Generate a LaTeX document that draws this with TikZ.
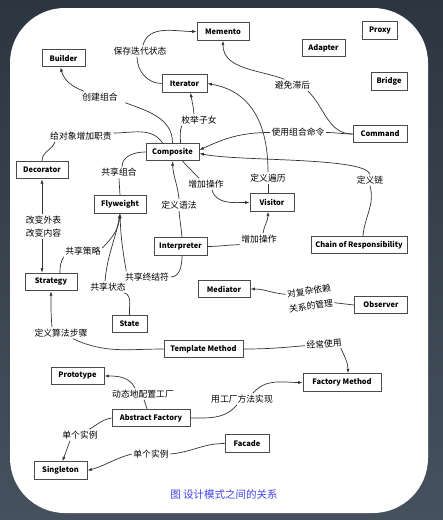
\documentclass[tikz,border=0pt]{standalone}
\usepackage{fontspec}
\newfontfamily\cjk{Noto Sans CJK SC}
\usetikzlibrary{arrows.meta}
\definecolor{bgtop}{HTML}{2C3640}
\definecolor{bgbot}{HTML}{45515D}
\definecolor{boxline}{HTML}{4A4A4A}
\definecolor{wirecol}{HTML}{333333}
\definecolor{capblue}{HTML}{4040F0}
\begin{document}
\begin{tikzpicture}[x=1pt,y=-1pt,
  pat/.style={draw=boxline, line width=0.9pt, fill=white,
    font=\cjk\bfseries\fontsize{7.5}{9}\selectfont,
    minimum height=17.5pt, inner xsep=4pt, inner ysep=0pt},
  lbl/.style={font=\cjk\fontsize{8.8}{13}\selectfont, inner sep=1.5pt, align=center},
  wire/.style={draw=wirecol, line width=0.7pt},
  arr/.style={wire, -{Latex[length=4.5pt,width=3.2pt]}},
  rarr/.style={wire, {Latex[length=4.5pt,width=3.2pt]}-}]
\useasboundingbox (0,0) rectangle (443,520);
% backdrop and card
\shade[top color=bgtop, bottom color=bgbot] (0,0) rectangle (443,520);
\fill[white, rounded corners=55pt] (10,8) rectangle (428,513);

% pattern boxes
\node[pat, minimum width=52pt] (memento) at (223,31.5) {Memento};
\node[pat, minimum width=35pt] (proxy) at (380,30.5) {Proxy};
\node[pat, minimum width=43pt] (adapter) at (323.5,48) {Adapter};
\node[pat, minimum width=43pt] (builder) at (63.5,58) {Builder};
\node[pat, minimum width=36pt] (bridge) at (389,81.5) {Bridge};
\node[pat, minimum width=45pt] (iterator) at (184.5,83.5) {Iterator};
\node[pat, minimum width=54pt] (command) at (380,134) {Command};
\node[pat, minimum width=53pt] (composite) at (172.5,152) {Composite};
\node[pat, minimum width=52pt] (decorator) at (42,170) {Decorator};
\node[pat, minimum width=52pt] (flyweight) at (120,204.5) {Flyweight};
\node[pat, minimum width=44pt] (visitor) at (272,202.5) {Visitor};
\node[pat, minimum width=96pt] (chain) at (359,245) {Chain of Responsibility};
\node[pat, minimum width=53pt] (interpreter) at (180.5,246.5) {Interpreter};
\node[pat, minimum width=52pt] (strategy) at (51,282) {Strategy};
\node[pat, minimum width=52pt] (mediator) at (224,289) {Mediator};
\node[pat, minimum width=53pt] (observer) at (381,305) {Observer};
\node[pat, minimum width=35pt] (state) at (129.5,324) {State};
\node[pat, minimum width=79pt] (template) at (203.5,349) {Template Method};
\node[pat, minimum width=53pt] (prototype) at (77.5,376) {Prototype};
\node[pat, minimum width=78pt] (factory) at (342,382.5) {Factory Method};
\node[pat, minimum width=78pt] (abstract) at (151,418) {Abstract Factory};
\node[pat, minimum width=44pt] (facade) at (247,443.5) {Facade};
\node[pat, minimum width=53pt] (singleton) at (60.5,470.5) {Singleton};

% relation labels
\node[lbl] (lSave) at (140,51) {保存迭代状态};
\node[lbl] (lBuild) at (100,97) {创建组合};
\node[lbl] (lAvoid) at (292.5,85) {避免滞后};
\node[lbl] (lEnum) at (199,120) {枚举子女};
\node[lbl] (lDuty) at (81,136) {给对象增加职责};
\node[lbl] (lCmd) at (298,132.5) {使用组合命令};
\node[lbl] (lShare) at (119,172.5) {共享组合};
\node[lbl] (lAddA) at (206,184) {增加操作};
\node[lbl] (lTrav) at (268,178) {定义遍历};
\node[lbl] (lChain) at (370,180) {定义链};
\node[lbl] (lGram) at (179,205) {定义语法};
\node[lbl] (lChange) at (43.5,226.5) {改变外表\\改变内容};
\node[lbl] (lAddB) at (259,239) {增加操作};
\node[lbl] (lStrat) at (83,251) {共享策略};
\node[lbl] (lTerm) at (147,277) {共享终结符};
\node[lbl] (lState) at (108,287) {共享状态};
\node[lbl, rotate=8] (lDepA) at (309,291) {对复杂依赖};
\node[lbl, rotate=8] (lDepB) at (311,306) {关系的管理};
\node[lbl] (lAlg) at (61,333) {定义算法步骤};
\node[lbl, rotate=5] (lOften) at (324,344) {经常使用};
\node[lbl] (lDyn) at (143,394) {动态地配置工厂};
\node[lbl] (lImpl) at (242,399) {用工厂方法实现};
\node[lbl] (lSingA) at (80,435) {单个实例};
\node[lbl] (lSingB) at (151,454) {单个实例};

% Iterator -> Memento
\draw[wire] (iterator.west) to[out=180,in=-90] ([xshift=-3pt]lSave.south);
\draw[arr] ([xshift=3pt]lSave.north) to[out=75,in=180] (memento.west);
% Composite -> Builder
\draw[wire] (composite.north) to[out=90,in=-20] ([xshift=6pt]lBuild.south east);
\draw[arr] ([xshift=-16pt]lBuild.north) to[out=160,in=-75] ([xshift=-3pt]builder.south);
% Composite -> Iterator
\draw[wire] ([xshift=8pt]composite.north) to[out=90,in=-110] ([xshift=2pt]lEnum.south west);
\draw[arr] ([xshift=-5pt]lEnum.north) to[out=95,in=-80] ([xshift=6pt]iterator.south);
% Composite -> Decorator
\draw[wire] ([xshift=-10pt]composite.north) to[out=125,in=0] ([yshift=3pt]lDuty.east);
\draw[wire] ([xshift=-26pt]lDuty.south) to[out=-110,in=90] (decorator.north);
% Command -> Memento
\draw[wire] (command.west) to[out=180,in=-45] ([xshift=-4pt]lAvoid.south east);
\draw[arr] ([xshift=-8pt]lAvoid.north) to[out=160,in=-90] (memento.south);
% Command -> Composite
\draw[wire] (command.west) to[out=180,in=0] (lCmd.east);
\draw[arr] (lCmd.west) to[out=180,in=25] ([yshift=2pt]composite.east);
% Chain of Responsibility -> Composite
\draw[wire] ([xshift=4pt]chain.north) to[out=85,in=-75] (lChain.south);
\draw[arr] (lChain.north) .. controls (365,157) and (239,161.5) .. ([yshift=-1.5pt]composite.east);
% Visitor -> Iterator
\draw[wire] ([xshift=-4pt]visitor.north) -- (lTrav.south);
\draw[arr] (lTrav.north) to[out=90,in=-10,looseness=1.1] (iterator.east);
% Composite -> Visitor
\draw[wire] ([xshift=10pt]composite.south) -- ([xshift=-7pt]lAddA.north);
\draw[arr] ([xshift=6pt]lAddA.south) to[out=-75,in=180] (visitor.west);
% Flyweight -> Composite
\draw[wire] (flyweight.north) -- (lShare.south);
\draw[wire] ([xshift=3pt]lShare.north) to[out=90,in=180] (composite.west);
% Interpreter -> Composite
\draw[wire] ([xshift=1.5pt]interpreter.north) to[out=95,in=-85] (lGram.south);
\draw[arr] (lGram.north) to[out=95,in=-88] (composite.south);
% Interpreter -> Visitor
\draw[wire] (interpreter.east) to[out=0,in=180] (lAddB.south west);
\draw[arr] ([xshift=4pt]lAddB.north) to[out=80,in=-90] ([xshift=-4pt]visitor.south);
% Decorator <-> Strategy
\draw[rarr] (decorator.south) -- (decorator.south |- lChange.north);
\draw[arr] (decorator.south |- lChange.south) -- (decorator.south |- strategy.north);
% Strategy -> Flyweight
\draw[wire] ([xshift=9pt]strategy.north) to[out=90,in=-120] (lStrat.south west);
\draw[arr] ([yshift=3pt]lStrat.east) to[out=45,in=-95] (flyweight.south);
% State -> Flyweight
\draw[wire] (state.north) to[out=95,in=-20] ([xshift=-3pt]lState.south east);
\draw[arr] ([xshift=-3pt]lState.north) to[out=85,in=-100] (flyweight.south);
% Interpreter -> Flyweight
\draw[wire] ([xshift=1.5pt]interpreter.south) to[out=-90,in=0] (lTerm.east);
\draw[arr] ([xshift=3pt]lTerm.north west) to[out=100,in=-88] (flyweight.south);
% Observer -> Mediator
\draw[wire] (observer.west) -- (lDepB.east);
\draw[arr] (lDepA.west) to[out=175,in=0] (mediator.east);
% Template Method -> Strategy
\draw[wire] (template.west) to[out=180,in=-25] ([xshift=-16pt]lAlg.south east);
\draw[arr] ([xshift=-9pt]lAlg.north) to[out=95,in=-90] (strategy.south);
% Template Method -> Factory Method
\draw[wire] (template.east) to[out=0,in=185] (lOften.west);
\draw[arr] ([xshift=-3pt]lOften.south east) to[out=-65,in=90] ([xshift=6pt]factory.north);
% Abstract Factory -> Prototype
\draw[wire] ([xshift=-4pt]abstract.north) -- ([xshift=1pt]lDyn.south);
\draw[arr] ([xshift=-8pt]lDyn.north) to[out=115,in=0] (prototype.east);
% Abstract Factory -> Factory Method
\draw[wire] (abstract.east) to[out=0,in=-130] ([xshift=-5pt]lImpl.south);
\draw[arr] ([xshift=11pt]lImpl.north) to[out=50,in=180] (factory.west);
% Abstract Factory -> Singleton
\draw[wire] (abstract.west) to[out=190,in=30] ([xshift=-10pt]lSingA.north east);
\draw[arr] ([xshift=-10pt]lSingA.south) to[out=-110,in=70] ([xshift=2pt]singleton.north);
% Facade -> Singleton
\draw[wire] (facade.west) to[out=180,in=5] (lSingB.east);
\draw[arr] (lSingB.west) to[out=195,in=15] (singleton.east);

% caption
\node[font=\cjk\fontsize{10.5}{12}\selectfont, text=capblue] (caption) at (224,494.5) {图 设计模式之间的关系};
\end{tikzpicture}
\end{document}
